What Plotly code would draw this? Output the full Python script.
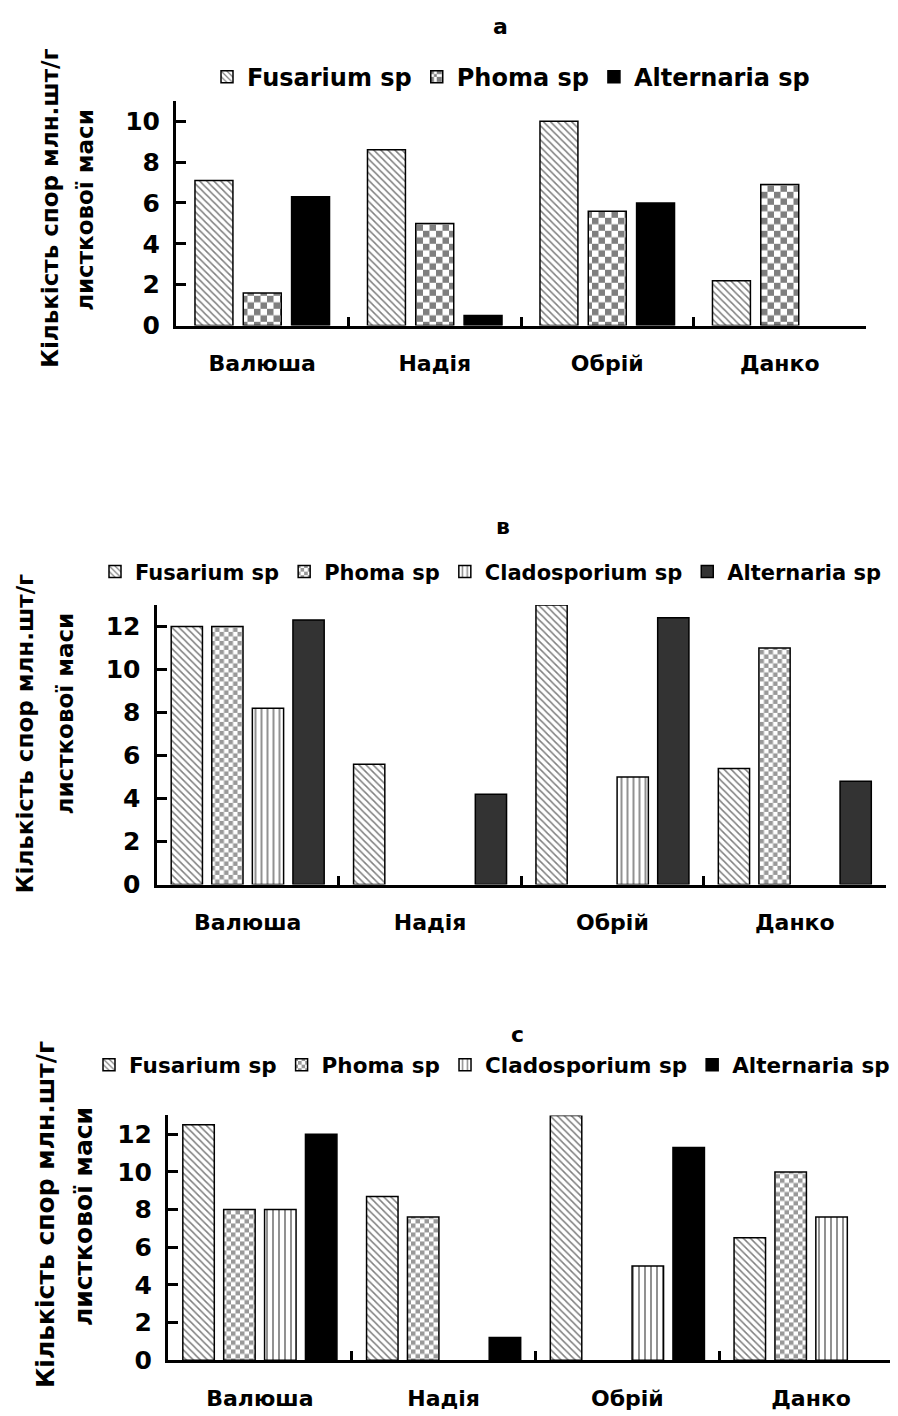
import plotly.graph_objects as go

# ---------------- data ----------------
categories = ["Валюша", "Надія", "Обрій", "Данко"]

# panel а
a_fusarium = [7.1, 8.6, 10.0, 2.2]
a_phoma = [1.6, 5.0, 5.6, 6.9]
a_alternaria = [6.3, 0.5, 6.0, 0.0]

# panel в
b_fusarium = [12.0, 5.6, 13.0, 5.4]
b_phoma = [12.0, 0.0, 0.0, 11.0]
b_cladosporium = [8.2, 0.0, 5.0, 0.0]
b_alternaria = [12.3, 4.2, 12.4, 4.8]

# panel с
c_fusarium = [12.5, 8.7, 13.0, 6.5]
c_phoma = [8.0, 7.6, 0.0, 10.0]
c_cladosporium = [8.0, 0.0, 5.0, 7.6]
c_alternaria = [12.0, 1.2, 11.3, 0.0]

series_names = ["Fusarium sp", "Phoma sp", "Cladosporium sp", "Alternaria sp"]
panel_titles = ["а", "в", "с"]
y_title_line1 = "Кількість спор млн.шт/г"
y_title_line2 = "листкової маси"
y_ticks = [0, 2, 4, 6, 8, 10, 12]

W, H = 898, 1416
FONT = "DejaVu Sans"


def px(x):
    return x / W


def py(y):
    return 1 - y / H


def fusarium_pattern():
    return dict(shape="\\", size=5, solidity=0.3, fgcolor="black", bgcolor="white")


def clado_pattern(color):
    return dict(shape="|", size=6, solidity=0.33, fgcolor=color, bgcolor="white")


def phoma_pattern(size, color):
    # checkerboard tile: two filled squares per tile
    h = size / 2
    return dict(path=f"M0,0H{h}V{h}H0Z M{h},{h}H{size}V{size}H{h}Z",
                size=size, fgcolor=color, bgcolor="white")


def phoma_fallback(size, color):
    return dict(shape="+", size=size, solidity=0.45, fgcolor=color, bgcolor="white")


def make_bar(name, values, xa, ya, legend, pattern=None, color="white", fallback=None,
             width=None, offset=None):
    line_w = [1.5 if v > 0 else 0 for v in values]
    marker = dict(color=color, line=dict(color="black", width=line_w))
    if pattern is not None:
        marker["pattern"] = pattern
    extra = {}
    if width is not None:
        extra = dict(width=width, offset=offset)
    try:
        return go.Bar(name=name, x=categories, y=values, xaxis=xa, yaxis=ya,
                      legend=legend, marker=marker, **extra)
    except ValueError:
        marker["pattern"] = fallback
        return go.Bar(name=name, x=categories, y=values, xaxis=xa, yaxis=ya,
                      legend=legend, marker=marker, **extra)


fig = go.Figure()

# panel а (three series; bar width / offsets in category units)
fig.add_trace(make_bar(series_names[0], a_fusarium, "x", "y", "legend", fusarium_pattern(),
                       width=0.22, offset=-0.39))
fig.add_trace(make_bar(series_names[1], a_phoma, "x", "y", "legend",
                       phoma_pattern(13, "black"), fallback=phoma_fallback(8, "black"),
                       width=0.22, offset=-0.11))
fig.add_trace(make_bar(series_names[3], a_alternaria, "x", "y", "legend", color="black",
                       width=0.22, offset=0.17))

# panel в
fig.add_trace(make_bar(series_names[0], b_fusarium, "x2", "y2", "legend2", fusarium_pattern()))
fig.add_trace(make_bar(series_names[1], b_phoma, "x2", "y2", "legend2",
                       phoma_pattern(9, "#333333"), fallback=phoma_fallback(7, "#333333")))
fig.add_trace(make_bar(series_names[2], b_cladosporium, "x2", "y2", "legend2", clado_pattern("#222222")))
fig.add_trace(make_bar(series_names[3], b_alternaria, "x2", "y2", "legend2", color="#333333"))

# panel с
fig.add_trace(make_bar(series_names[0], c_fusarium, "x3", "y3", "legend3", fusarium_pattern()))
fig.add_trace(make_bar(series_names[1], c_phoma, "x3", "y3", "legend3",
                       phoma_pattern(9, "#333333"), fallback=phoma_fallback(7, "#333333")))
fig.add_trace(make_bar(series_names[2], c_cladosporium, "x3", "y3", "legend3", clado_pattern("#222222")))
fig.add_trace(make_bar(series_names[3], c_alternaria, "x3", "y3", "legend3", color="black"))

panels = [
    dict(x0=168, x1=858, yb=321, yt=93.8, ymax=11),
    dict(x0=148.5, x1=878, yb=886, yt=603.3, ymax=13),
    dict(x0=160, x1=895, yb=1366.7, yt=1119.3, ymax=13),
]

layout_axes = {}
for i, p in enumerate(panels):
    sfx = "" if i == 0 else str(i + 1)
    layout_axes["xaxis" + sfx] = dict(
        domain=[px(p["x0"]), px(p["x1"])],
        anchor="y" + sfx,
        type="category",
        showline=True, linecolor="black", linewidth=3,
        ticks="inside", tickson="boundaries", ticklen=9, tickwidth=3, tickcolor="black",
        showgrid=False, zeroline=False,
        tickfont=dict(family=FONT, size=22, color="black", weight="bold"),
        ticklabelstandoff=16,
    )
    layout_axes["yaxis" + sfx] = dict(
        domain=[py(p["yb"]), py(p["yt"])],
        anchor="x" + sfx,
        range=[0, p["ymax"]],
        tickvals=[t for t in y_ticks if t <= p["ymax"]],
        showline=True, linecolor="black", linewidth=3,
        ticks="inside", ticklen=10, tickwidth=3, tickcolor="black",
        showgrid=False, zeroline=False,
        tickfont=dict(family=FONT, size=25, color="black", weight="bold"),
        ticklabelstandoff=8,
    )

legend_common = dict(orientation="h", xanchor="left", yanchor="middle",
                     bgcolor="rgba(0,0,0,0)", itemwidth=30, traceorder="normal")

annotations = []
title_pos = [(492, 19), (495, 524), (509, 1037)]
for t, (x, y) in zip(panel_titles, title_pos):
    annotations.append(dict(text=t, x=px(x), y=py(y), xref="paper", yref="paper",
                            showarrow=False, xanchor="center", yanchor="middle",
                            font=dict(family=FONT, size=22, color="black", weight="bold")))

ytitle_pos = [((42, 203), (77, 204), 23), ((17, 734), (57, 713), 23), ((37, 1220), (75, 1222), 25)]
for (l1, l2, fs) in ytitle_pos:
    for txt, (x, y) in ((y_title_line1, l1), (y_title_line2, l2)):
        annotations.append(dict(text=txt, x=px(x), y=py(y), xref="paper", yref="paper",
                                showarrow=False, xanchor="center", yanchor="middle",
                                textangle=-90,
                                font=dict(family=FONT, size=fs, color="black", weight="bold")))

fig.update_layout(
    width=W, height=H,
    margin=dict(l=0, r=0, t=0, b=0),
    paper_bgcolor="white", plot_bgcolor="white",
    barmode="group", bargap=0.11, bargroupgap=0.23,
    font=dict(family=FONT, color="black"),
    legend=dict(x=px(199), y=py(70), font=dict(family=FONT, size=24, color="black", weight="bold"),
                **legend_common),
    legend2=dict(x=px(87), y=py(570), font=dict(family=FONT, size=21, color="black", weight="bold"),
                 **legend_common),
    legend3=dict(x=px(81), y=py(1068), font=dict(family=FONT, size=21.5, color="black", weight="bold"),
                 **legend_common),
    annotations=annotations,
    **layout_axes,
)

fig.write_html("out.html")
